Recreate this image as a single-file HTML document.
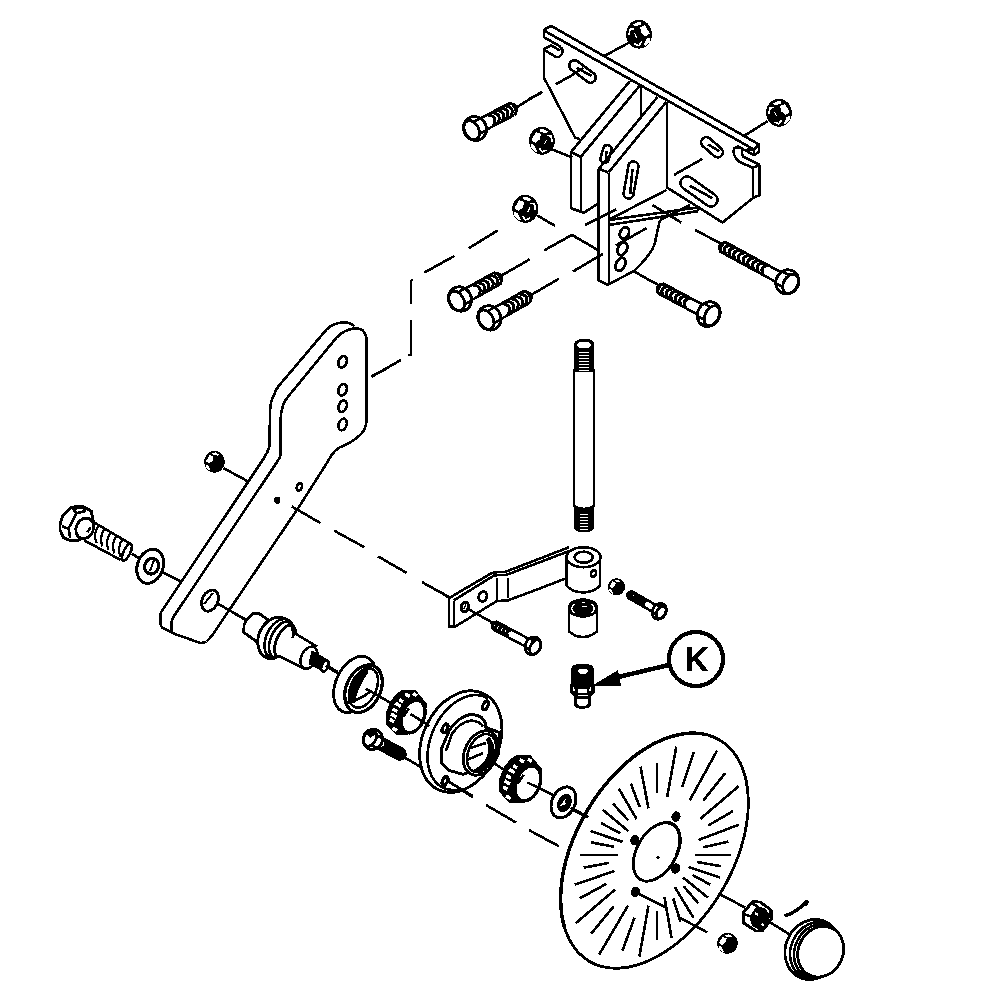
<!DOCTYPE html>
<html><head><meta charset="utf-8"><style>
html,body{margin:0;padding:0;background:#fff;width:992px;height:993px;overflow:hidden}
svg{display:block}
</style></head><body>
<svg width="992" height="993" viewBox="0 0 992 993" stroke="#000" fill="none" stroke-linecap="butt" stroke-linejoin="round" shape-rendering="crispEdges">
<polyline points="551,25.8 759,144.5" stroke-width="2.6"/>
<polyline points="544,30.5 754,149.6" stroke-width="2.6"/>
<polyline points="544,29.4 551,25.8" stroke-width="2.6"/>
<polyline points="544,29.4 544,37.2 561,47" stroke-width="2.6"/>
<polyline points="754,149.6 759,144.5 759,152 754,155 754,149.6" stroke-width="2.6"/>
<polyline points="737,146 754,155" stroke-width="2.6"/>
<path d="M561,47 Q565,53 559,57 L556,57 L545,50.5 M551,45.3 L560,50.5 M551,45.3 L544,49 L544,77.7 L575,137.4 L580,139.5" stroke-width="2.6" fill="none"/>
<path d="M571.4,69.7 L587.4,81.7 A5.2,5.2 0 0 0 593.6,73.3 L577.6,61.3 A5.2,5.2 0 0 0 571.4,69.7 Z" stroke-width="2.6" fill="none"/>
<polyline points="576.7,67.8 591.6,76" stroke-width="2.6"/>
<path d="M555.8,84.2 Q570,77 583.2,68" stroke-width="2.6" fill="none"/>
<polyline points="530,98.7 542,92.3" stroke-width="2.6"/>
<ellipse cx="639" cy="34.2" rx="12.9" ry="14.4" stroke="none" fill="black"/>
<polygon points="642.1,22.7 638,21.8 633.2,24.4 634.8,26 640,25.3" stroke="none" fill="white"/>
<polygon points="649.7,33.5 644.9,25.1 640,27.3 641.3,32.8 645.7,36.5" stroke="none" fill="white"/>
<polygon points="650.1,37.7 646.9,38.2 643.6,45.3 645.7,45.6 649.7,41.8" stroke="none" fill="white"/>
<polygon points="637.2,37.7 634.8,32.8 634,33.2 636,38.1" stroke="none" fill="white"/>
<g stroke="white">
<polyline points="634,28.6 630,29.2 628.9,35.2" stroke-width="1.7"/>
<polyline points="641.7,41.4 638.9,45.7 634.4,43.7" stroke-width="1.7"/>
</g>
<polyline points="628.4,43 604.2,56" stroke-width="2.6"/>
<ellipse cx="779" cy="112.8" rx="12.9" ry="13.9" stroke="none" fill="black"/>
<polygon points="782.1,101.7 778,100.8 773.2,103.3 774.8,104.9 780,104.2" stroke="none" fill="white"/>
<polygon points="789.7,112.1 784.9,104 780,106.1 781.3,111.4 785.7,115" stroke="none" fill="white"/>
<polygon points="790.1,116.1 786.9,116.7 783.6,123.5 785.7,123.8 789.7,120.2" stroke="none" fill="white"/>
<polygon points="777.2,116.1 774.8,111.4 774,111.8 776,116.6" stroke="none" fill="white"/>
<g stroke="white">
<polyline points="774,107.4 770,107.9 768.9,113.8" stroke-width="1.7"/>
<polyline points="781.7,119.8 778.9,123.9 774.4,122" stroke-width="1.7"/>
</g>
<polyline points="767.8,121 744,136" stroke-width="2.6"/>
<polyline points="571,152 630,81" stroke-width="2.6"/>
<polyline points="580.8,156.8 639.7,85.8" stroke-width="2.6"/>
<polyline points="571,152 580.8,156.8" stroke-width="2.6"/>
<polyline points="571,152 571,208.3 584,212.7 597.4,203.9" stroke-width="2.6"/>
<polyline points="580.8,156.8 580.8,212" stroke-width="2"/>
<polyline points="640.6,86 640.6,116.3" stroke-width="2"/>
<path d="M603.5,147.8 L600.5,157.8 A4.2,4.2 0 0 0 608.5,160.2 L611.5,150.2 A4.2,4.2 0 0 0 603.5,147.8 Z" stroke-width="2.6" fill="none"/>
<polyline points="606.4,151.3 605.9,159.4" stroke-width="2.6"/>
<polyline points="598.8,168.8 657.4,97.1" stroke-width="2.6"/>
<polyline points="608.5,172.5 666.3,102" stroke-width="2.6"/>
<polyline points="598.8,168.8 608.5,172.5" stroke-width="2.6"/>
<polyline points="598.5,168.8 598.5,280.4 607.4,284.8 633.8,271.2" stroke-width="2.6"/>
<polyline points="608.5,172.5 608.5,284.8" stroke-width="2"/>
<path d="M633.75,271.25 Q652,254 655,242.5 Q657,232 660,220" stroke-width="2.6" fill="none"/>
<polyline points="667,102 667,187.5" stroke-width="2"/>
<path d="M628.6,165.1 L623.6,193.1 A5,5 0 0 0 633.4,194.9 L638.4,166.9 A5,5 0 0 0 628.6,165.1 Z" stroke-width="2.6" fill="none"/>
<polyline points="632.5,168.9 630.2,194.3" stroke-width="2.6"/>
<polyline points="667,187.5 722.5,222.5 753,198" stroke-width="2.6"/>
<polyline points="759.5,164.6 759.5,195.2 753,198" stroke-width="2.6"/>
<polyline points="753,167.8 753,198" stroke-width="2"/>
<path d="M741,148 Q733,145.5 733.7,152 Q734,158 740.1,162.2 L753,167.8 L759.5,164.6 M753,149.5 L743,150 Q740.5,152 743.3,156.6 L759.5,164.6" stroke-width="2.6" fill="none"/>
<path d="M702.6,145.9 L714.6,156.4 A5.2,5.2 0 0 0 721.4,148.6 L709.4,138.1 A5.2,5.2 0 0 0 702.6,145.9 Z" stroke-width="2.6" fill="none"/>
<polyline points="708,144.4 719.2,151.1" stroke-width="2.6"/>
<path d="M683.2,188.3 L707.2,205.3 A6.5,6.5 0 0 0 714.8,194.7 L690.8,177.7 A6.5,6.5 0 0 0 683.2,188.3 Z" stroke-width="2.6" fill="none"/>
<polyline points="689.8,185.8 712.3,198.1" stroke-width="2.6"/>
<polyline points="673.8,175 702.5,158.8" stroke-width="2.6"/>
<polyline points="608.8,220 697.5,207.5" stroke-width="2.6"/>
<polyline points="608.8,225 697.5,211.2" stroke-width="2.6"/>
<polyline points="697.5,207.5 697.5,211.2" stroke-width="2"/>
<polyline points="666.5,190 609.4,219.4" stroke-width="2.6"/>
<polyline points="585,225 616,209.4" stroke-width="2.6"/>
<polyline points="652.5,205 681.2,222.5" stroke-width="2.6"/>
<polyline points="660,220 690,205" stroke-width="2.6"/>
<ellipse cx="624.4" cy="233" rx="4.3" ry="5.8" stroke-width="2.8600000000000003" fill="none" transform="rotate(25 624.4 233)"/>
<ellipse cx="622.5" cy="248.8" rx="4.4" ry="6.8" stroke-width="2.8600000000000003" fill="none" transform="rotate(25 622.5 248.8)"/>
<ellipse cx="620.5" cy="264.3" rx="4.5" ry="6.9" stroke-width="2.8600000000000003" fill="none" transform="rotate(25 620.5 264.3)"/>
<polyline points="616,245.4 646.5,228.2" stroke-width="2.6"/>
<polyline points="598.5,250.4 571.9,234.9 544.2,250.4" stroke-width="2.6"/>
<polyline points="602.9,253.8 573,271.5" stroke-width="2.6"/>
<polyline points="500.5,276.1 529.7,259.3" stroke-width="2.6"/>
<polyline points="530.7,295.2 558.8,278.8" stroke-width="2.6"/>
<polyline points="497.6,230.5 468.8,248.2" stroke-width="2.6"/>
<polyline points="454.3,256 424.4,272.6" stroke-width="2.6"/>
<polyline points="413.2,280.1 411.4,280.1 411.4,304.3" stroke-width="2"/>
<polyline points="411.4,320 411.4,355 408.3,355" stroke-width="2"/>
<polyline points="401.1,359.9 371.5,376.8" stroke-width="2.6"/>
<ellipse cx="542" cy="140.8" rx="12.9" ry="13.9" stroke="none" fill="black"/>
<polygon points="538.9,129.7 543,128.8 547.8,131.3 546.2,132.9 541,132.2" stroke="none" fill="white"/>
<polygon points="531.3,140.1 536.1,132 541,134.1 539.7,139.4 535.3,143" stroke="none" fill="white"/>
<polygon points="530.9,144.1 534.1,144.7 537.4,151.5 535.3,151.8 531.3,148.2" stroke="none" fill="white"/>
<polygon points="543.8,144.1 546.2,139.4 547,139.8 545,144.6" stroke="none" fill="white"/>
<g stroke="white">
<polyline points="547,135.4 551,135.9 552.1,141.8" stroke-width="1.7"/>
<polyline points="539.3,147.8 542.1,151.9 546.6,150" stroke-width="1.7"/>
</g>
<polyline points="551,149 572.5,157.5" stroke-width="2.6"/>
<ellipse cx="525.3" cy="208.8" rx="13" ry="14" stroke="none" fill="black"/>
<polygon points="522.2,197.6 526.3,196.8 531.1,199.3 529.5,200.8 524.3,200.1" stroke="none" fill="white"/>
<polygon points="514.5,208.1 519.3,200 524.3,202.1 523,207.4 518.5,211" stroke="none" fill="white"/>
<polygon points="514.1,212.2 517.4,212.7 520.6,219.6 518.5,219.9 514.5,216.2" stroke="none" fill="white"/>
<polygon points="527.1,212.2 529.5,207.4 530.4,207.8 528.3,212.6" stroke="none" fill="white"/>
<g stroke="white">
<polyline points="530.4,203.3 534.4,203.9 535.4,209.8" stroke-width="1.7"/>
<polyline points="522.6,215.8 525.4,220 530,218" stroke-width="1.7"/>
</g>
<polyline points="537.5,215.5 555.2,226" stroke-width="2.6"/>
<path d="M483,131.5 L514.3,115.1 M477,120.2 L508.3,103.7" stroke-width="2.6" fill="none"/>
<path d="M514.3,115.1 C518.8,112.7 512.9,101.3 508.3,103.7" stroke-width="2.6" fill="none"/>
<path d="M493.2,126.2 Q498.7,116 487.2,114.8" stroke-width="3" fill="none"/>
<path d="M497.5,123.9 Q503,113.7 491.6,112.6" stroke-width="3" fill="none"/>
<path d="M501.8,121.6 Q507.4,111.5 495.9,110.3" stroke-width="3" fill="none"/>
<path d="M506.2,119.3 Q511.7,109.2 500.2,108" stroke-width="3" fill="none"/>
<path d="M510.5,117 Q516,106.9 504.6,105.7" stroke-width="3" fill="none"/>
<path d="M514.8,114.8 Q520.4,104.6 508.9,103.4" stroke-width="3" fill="none"/>
<ellipse cx="475" cy="128.5" rx="11.3" ry="12.2" stroke-width="2.8600000000000003" fill="white" transform="rotate(-27.8 475 128.5)"/>
<ellipse cx="471.7" cy="130.2" rx="7" ry="10.2" stroke-width="2.8600000000000003" fill="none" transform="rotate(-27.8 471.7 130.2)"/>
<polyline points="478.3,134.3 486.6,130" stroke-width="2.6"/>
<polyline points="472.1,122.5 480.4,118.1" stroke-width="2.6"/>
<polyline points="517.1,106.9 542.5,91.5" stroke-width="2.6"/>
<path d="M468.1,302 L499.5,284.7 M461.8,290.5 L493.1,273.2" stroke-width="2.6" fill="none"/>
<path d="M499.5,284.7 C504.1,282.2 497.7,270.6 493.1,273.2" stroke-width="2.6" fill="none"/>
<path d="M478.4,296.4 Q483.9,285.8 472,284.8" stroke-width="3" fill="none"/>
<path d="M482.7,294 Q488.2,283.4 476.3,282.4" stroke-width="3" fill="none"/>
<path d="M487.1,291.6 Q492.5,281 480.7,280" stroke-width="3" fill="none"/>
<path d="M491.4,289.2 Q496.9,278.6 485,277.6" stroke-width="3" fill="none"/>
<path d="M495.7,286.8 Q501.2,276.2 489.3,275.3" stroke-width="3" fill="none"/>
<path d="M500,284.4 Q505.5,273.8 493.7,272.9" stroke-width="3" fill="none"/>
<ellipse cx="460" cy="299" rx="11.3" ry="12.4" stroke-width="2.8600000000000003" fill="white" transform="rotate(-28.9 460 299)"/>
<ellipse cx="456.7" cy="300.8" rx="7" ry="10.4" stroke-width="2.8600000000000003" fill="none" transform="rotate(-28.9 456.7 300.8)"/>
<polyline points="463.5,304.9 471.7,300.3" stroke-width="2.6"/>
<polyline points="456.9,292.9 465.1,288.4" stroke-width="2.6"/>
<path d="M497.6,320.9 L529,303.2 M491.1,309.4 L522.5,291.7" stroke-width="2.6" fill="none"/>
<path d="M529,303.2 C533.6,300.6 527.1,289.1 522.5,291.7" stroke-width="2.6" fill="none"/>
<path d="M507.9,315.1 Q513.3,304.5 501.4,303.6" stroke-width="3" fill="none"/>
<path d="M512.2,312.7 Q517.6,302.1 505.7,301.1" stroke-width="3" fill="none"/>
<path d="M516.6,310.2 Q522,299.6 510.1,298.7" stroke-width="3" fill="none"/>
<path d="M520.9,307.8 Q526.3,297.2 514.4,296.3" stroke-width="3" fill="none"/>
<path d="M525.2,305.3 Q530.6,294.7 518.8,293.8" stroke-width="3" fill="none"/>
<path d="M529.6,302.9 Q535,292.3 523.1,291.4" stroke-width="3" fill="none"/>
<ellipse cx="489.4" cy="317.9" rx="11.3" ry="12.4" stroke-width="2.8600000000000003" fill="white" transform="rotate(-29.3 489.4 317.9)"/>
<ellipse cx="486.1" cy="319.7" rx="7" ry="10.4" stroke-width="2.8600000000000003" fill="none" transform="rotate(-29.3 486.1 319.7)"/>
<polyline points="492.9,323.7 501.1,319.1" stroke-width="2.6"/>
<polyline points="486.3,311.8 494.4,307.3" stroke-width="2.6"/>
<polyline points="695,230 723.8,245" stroke-width="2.6"/>
<path d="M785,274.4 L726.9,242.8 M779.7,284 L721.6,252.4" stroke-width="2.6" fill="none"/>
<path d="M726.9,242.8 C723,240.7 717.8,250.3 721.6,252.4" stroke-width="2.6" fill="none"/>
<path d="M768.6,265.5 Q758.8,266.4 763.4,275.1" stroke-width="3.2" fill="none"/>
<path d="M763.9,262.9 Q754.1,263.8 758.7,272.6" stroke-width="3.2" fill="none"/>
<path d="M759.3,260.4 Q749.4,261.3 754,270" stroke-width="3.2" fill="none"/>
<path d="M754.6,257.8 Q744.7,258.7 749.3,267.5" stroke-width="3.2" fill="none"/>
<path d="M749.9,255.3 Q740,256.2 744.6,264.9" stroke-width="3.2" fill="none"/>
<path d="M745.2,252.7 Q735.3,253.6 739.9,262.4" stroke-width="3.2" fill="none"/>
<path d="M740.5,250.2 Q730.6,251 735.2,259.8" stroke-width="3.2" fill="none"/>
<path d="M735.8,247.6 Q725.9,248.5 730.5,257.3" stroke-width="3.2" fill="none"/>
<path d="M731.1,245 Q721.2,245.9 725.8,254.7" stroke-width="3.2" fill="none"/>
<path d="M726.4,242.5 Q716.5,243.4 721.1,252.2" stroke-width="3.2" fill="none"/>
<ellipse cx="787.3" cy="281.9" rx="11.3" ry="12.3" stroke-width="2.8600000000000003" fill="white" transform="rotate(-151.4 787.3 281.9)"/>
<ellipse cx="790.6" cy="283.7" rx="7" ry="10.3" stroke-width="2.8600000000000003" fill="none" transform="rotate(-151.4 790.6 283.7)"/>
<polyline points="790.3,275.8 782.1,271.4" stroke-width="2.6"/>
<polyline points="783.9,287.7 775.6,283.3" stroke-width="2.6"/>
<polyline points="650,280.5 660.5,286.1" stroke-width="2.6"/>
<polyline points="633.8,271.2 650,280.5" stroke-width="2.6"/>
<path d="M706.4,306.5 L664.6,284.2 M701.2,316.4 L659.3,294" stroke-width="2.6" fill="none"/>
<path d="M664.6,284.2 C660.7,282 655.4,291.9 659.3,294" stroke-width="2.6" fill="none"/>
<path d="M691.1,298.3 Q681.1,299.3 685.8,308.2" stroke-width="3.2" fill="none"/>
<path d="M686.6,295.9 Q676.6,296.9 681.3,305.8" stroke-width="3.2" fill="none"/>
<path d="M682.1,293.5 Q672.1,294.5 676.8,303.4" stroke-width="3.2" fill="none"/>
<path d="M677.6,291.1 Q667.6,292.1 672.3,301" stroke-width="3.2" fill="none"/>
<path d="M673.1,288.7 Q663.1,289.7 667.8,298.6" stroke-width="3.2" fill="none"/>
<path d="M668.6,286.3 Q658.6,287.3 663.3,296.2" stroke-width="3.2" fill="none"/>
<path d="M664.1,283.9 Q654.1,284.9 658.8,293.8" stroke-width="3.2" fill="none"/>
<ellipse cx="708.7" cy="314.1" rx="11.1" ry="12.7" stroke-width="2.8600000000000003" fill="white" transform="rotate(-151.8 708.7 314.1)"/>
<ellipse cx="711.9" cy="315.8" rx="6.9" ry="10.7" stroke-width="2.8600000000000003" fill="none" transform="rotate(-151.8 711.9 315.8)"/>
<polyline points="711.8,307.8 703.7,303.5" stroke-width="2.6"/>
<polyline points="705.2,320.2 697.1,315.8" stroke-width="2.6"/>
<path d="M354.7,326.3 Q350,322 342,322.5 Q333,323 326,330.1 L285.2,378.4 Q276,388 274.6,393.5 Q270,402 270.1,412 L269.3,446.4 Q268,452 264,458 L163.1,609.2 Q160.6,612 160.6,614.3 L160.6,624.4 Q161,626.5 162.1,627.4 L173.2,633.4" stroke-width="2.6" fill="none"/>
<path d="M353.1,328.6 Q344,330 336.5,337.6 L288.2,396.5 Q283,403 282.2,408.6 Q280.7,414 280.7,419.2 L280.7,453.9 Q280,458 277,462 L175.2,614.3 Q171.7,619 171.7,622.3 L171.7,631.4 Q172,633 173.2,633.4 L200.4,643 Q204,643 206.5,641.5 Q210,638 212.5,634.9 L300,505.3" stroke-width="2.6" fill="none"/>
<path d="M353.1,328.6 Q362,328 364,332 Q366.7,336 366.7,342 L366.7,419.2 Q366,430 360.7,434.3 Q355,440 345.6,444.9 Q339,447 335,450.9 Q331,455 327.5,462 L300,505.3" stroke-width="2.6" fill="none"/>
<ellipse cx="342.6" cy="361.8" rx="4" ry="6" stroke-width="2.6" fill="none" transform="rotate(20 342.6 361.8)"/>
<ellipse cx="342.6" cy="389.7" rx="4" ry="6" stroke-width="2.6" fill="none" transform="rotate(20 342.6 389.7)"/>
<ellipse cx="342.6" cy="406.3" rx="4" ry="6" stroke-width="2.6" fill="none" transform="rotate(20 342.6 406.3)"/>
<ellipse cx="342.6" cy="424.5" rx="4" ry="6" stroke-width="2.6" fill="none" transform="rotate(20 342.6 424.5)"/>
<ellipse cx="277.3" cy="500.3" rx="2.5" ry="3" stroke-width="1.3" fill="black"/>
<ellipse cx="299.4" cy="486.9" rx="2.5" ry="4" stroke-width="2.6" fill="none" transform="rotate(20 299.4 486.9)"/>
<ellipse cx="210" cy="600.6" rx="7.8" ry="11.1" stroke-width="2.8600000000000003" fill="none" transform="rotate(25 210 600.6)"/>
<polyline points="204,604 213,593" stroke-width="2"/>
<polyline points="218.5,604 246.6,620.1" stroke-width="2.6"/>
<polyline points="371.3,376.2 385,369.4" stroke-width="2.6"/>
<ellipse cx="214.5" cy="461.8" rx="10.4" ry="10.9" stroke="none" fill="black"/>
<polygon points="212,453.1 215.3,452.4 219.2,454.4 217.9,455.6 213.7,455" stroke="none" fill="white"/>
<polygon points="205.9,461.3 209.7,454.9 213.7,456.6 212.6,460.7 209.1,463.5" stroke="none" fill="white"/>
<polygon points="205.6,464.4 208.2,464.9 210.8,470.2 209.1,470.4 205.9,467.6" stroke="none" fill="white"/>
<polyline points="223.5,468.1 247.6,481.2" stroke-width="2.6"/>
<polyline points="291.9,506.5 320.6,523.2" stroke-width="2.6"/>
<polyline points="334.2,530.7 364.5,547.3" stroke-width="2.6"/>
<polyline points="378,556.4 406.8,573" stroke-width="2.6"/>
<polyline points="421.9,582.1 449.1,597.2" stroke-width="2.6"/>
<path d="M93,521.8 L129,543 M83.9,540.2 L120.6,559.9" stroke-width="2.6" fill="none"/>
<path d="M99,525 Q92.5,534 96.5,543" stroke-width="2.3" fill="none"/>
<path d="M105,528.4 Q98.5,537.4 102.5,546.4" stroke-width="2.3" fill="none"/>
<path d="M111,531.8 Q104.5,540.8 108.5,549.8" stroke-width="2.3" fill="none"/>
<path d="M117,535.2 Q110.5,544.2 114.5,553.2" stroke-width="2.3" fill="none"/>
<path d="M123,538.6 Q116.5,547.6 120.5,556.6" stroke-width="2.3" fill="none"/>
<path d="M129,542 Q122.5,551 126.5,560" stroke-width="2.3" fill="none"/>
<ellipse cx="126.9" cy="552.2" rx="3.4" ry="9.2" stroke-width="2.6" fill="white" transform="rotate(25 126.9 552.2)"/>
<polygon points="60,525.2 62.1,517.1 66,512 71.6,507.1 82.7,506.3 91.3,511.1 93.3,521.7 90,532 83.2,538.3 76.7,540.8 70.6,540.8 63.6,537.8 60,530.2" stroke-width="2.8600000000000003" fill="white"/>
<polygon points="73.1,509.1 82.7,507.1 85.2,511.1 76.7,513.1" stroke-width="2.6" fill="none"/>
<polyline points="76.7,513.1 68.6,528.2 70.1,538.3" stroke-width="2.6"/>
<polyline points="62.1,526.2 68.6,528.7" stroke-width="2.6"/>
<ellipse cx="84.8" cy="528.4" rx="8.6" ry="10.6" stroke-width="2.8600000000000003" fill="white" transform="rotate(25 84.8 528.4)"/>
<polyline points="87.3,532.3 90.5,527.5" stroke-width="2.6"/>
<polyline points="131.9,553.6 140.3,559.2" stroke-width="2.6"/>
<ellipse cx="150.2" cy="566.3" rx="12.8" ry="17.5" stroke-width="3" fill="white" transform="rotate(20 150.2 566.3)"/>
<ellipse cx="151.6" cy="566.2" rx="6.9" ry="7.9" stroke-width="3.25" fill="none" transform="rotate(20 151.6 566.2)"/>
<polyline points="150,571 154,560" stroke-width="2"/>
<polyline points="161.5,571.9 181.2,581.8" stroke-width="2.6"/>
<path d="M574,369 L574,506 Q584,512 594,506 L594,369" stroke-width="2.6" fill="none"/>
<path d="M575,371 L575,345 Q576,340 584,340 Q593,340 593,345 L593,371 Z" stroke-width="2.6" fill="black"/>
<ellipse cx="584" cy="345" rx="7" ry="3.5" stroke="none" fill="white"/>
<polyline points="579,352 589,352" stroke-width="1"/>
<polyline points="579,355 589,355" stroke-width="1"/>
<polyline points="579,358 589,358" stroke-width="1"/>
<polyline points="579,361 589,361" stroke-width="1"/>
<polyline points="579,364 589,364" stroke-width="1"/>
<polyline points="579,367 589,367" stroke-width="1"/>
<polyline points="579,370 589,370" stroke-width="1"/>
<g stroke="white">
<polyline points="579,352 589,352" stroke-width="1"/>
<polyline points="579,355 589,355" stroke-width="1"/>
<polyline points="579,358 589,358" stroke-width="1"/>
<polyline points="579,361 589,361" stroke-width="1"/>
<polyline points="579,364 589,364" stroke-width="1"/>
<polyline points="579,367 589,367" stroke-width="1"/>
<polyline points="579,370 589,370" stroke-width="1"/>
</g>
<path d="M575,509 L575,528 Q577,531 584,531 Q591,531 593,528 L593,509 Q584,512 575,509 Z" stroke-width="2.6" fill="black"/>
<g stroke="white">
<polyline points="580,514 588,514" stroke-width="1"/>
<polyline points="580,517 588,517" stroke-width="1"/>
<polyline points="580,520 588,520" stroke-width="1"/>
<polyline points="580,523 588,523" stroke-width="1"/>
<polyline points="580,526 588,526" stroke-width="1"/>
<polyline points="580,529 588,529" stroke-width="1"/>
</g>
<polyline points="440,591.4 449.1,598" stroke-width="2.6"/>
<polyline points="449.1,598 449.1,626.7 455.1,626.7 494.4,602.5 496.5,601 507.5,600.5 540,588.4 565.8,578.4" stroke-width="2.6"/>
<polyline points="453.6,600.5 453.6,625.7" stroke-width="2"/>
<polyline points="449.1,598 491.4,573.3 494.4,572.3 505.5,571.8 569,547.3" stroke-width="2.6"/>
<polyline points="453.6,600.5 494.4,575.3 506.5,574.8 571.5,550.2" stroke-width="2.6"/>
<polyline points="497,577.8 497,599.5" stroke-width="2"/>
<polyline points="508,578.3 508,598" stroke-width="2"/>
<ellipse cx="464.7" cy="607" rx="3.5" ry="5" stroke-width="3" fill="none" transform="rotate(15 464.7 607)"/>
<polyline points="463.5,609.5 466,604" stroke-width="1.3"/>
<ellipse cx="482.8" cy="596.5" rx="4" ry="5" stroke-width="2.8600000000000003" fill="none" transform="rotate(20 482.8 596.5)"/>
<polyline points="467.2,608.5 494.4,623.7" stroke-width="2.6"/>
<path d="M566.6,557.2 L566.6,585.6 Q572,592 583,592.5 Q594,592 600,585.6 L600,557.2" stroke-width="2.6" fill="white"/>
<ellipse cx="583.5" cy="557.2" rx="17" ry="10" stroke-width="2.6" fill="white"/>
<ellipse cx="583.7" cy="557.2" rx="9" ry="5.5" stroke-width="2.6" fill="none"/>
<ellipse cx="593.6" cy="573.5" rx="2.5" ry="3.5" stroke-width="2.6" fill="none" transform="rotate(20 593.6 573.5)"/>
<ellipse cx="616.5" cy="586.8" rx="8.6" ry="8.6" stroke="none" fill="black"/>
<polygon points="614.4,579.9 617.1,579.4 620.4,581 619.3,581.9 615.8,581.5" stroke="none" fill="white"/>
<polygon points="609.4,586.4 612.5,581.4 615.8,582.7 615,585.9 612,588.2" stroke="none" fill="white"/>
<polygon points="609.1,588.9 611.3,589.2 613.4,593.4 612,593.6 609.4,591.4" stroke="none" fill="white"/>
<path d="M658.1,606.3 L632.9,591.8 M654.4,612.9 L629.1,598.4" stroke-width="2.6" fill="none"/>
<path d="M632.9,591.8 C630.2,590.3 626.5,596.8 629.1,598.4" stroke-width="2.6" fill="none"/>
<path d="M648,600.4 Q641.1,600.9 644.2,607" stroke-width="3.2" fill="none"/>
<path d="M644.9,598.7 Q638,599.1 641.1,605.3" stroke-width="3.2" fill="none"/>
<path d="M641.8,596.9 Q635,597.4 638,603.5" stroke-width="3.2" fill="none"/>
<path d="M638.7,595.1 Q631.9,595.6 634.9,601.7" stroke-width="3.2" fill="none"/>
<path d="M635.6,593.4 Q628.8,593.8 631.8,599.9" stroke-width="3.2" fill="none"/>
<path d="M632.6,591.6 Q625.7,592 628.8,598.2" stroke-width="3.2" fill="none"/>
<ellipse cx="659.2" cy="611.3" rx="6.8" ry="8.2" stroke-width="2.8600000000000003" fill="white" transform="rotate(-150.1 659.2 611.3)"/>
<ellipse cx="661.1" cy="612.4" rx="4.2" ry="6.9" stroke-width="2.8600000000000003" fill="none" transform="rotate(-150.1 661.1 612.4)"/>
<polyline points="661.3,607.3 656.4,604.5" stroke-width="2.6"/>
<polyline points="656.8,615.1 651.9,612.3" stroke-width="2.6"/>
<path d="M569,608 L569,631.3 Q575,637 583,637 Q591,637 597,631.3 L597,608" stroke-width="2.6" fill="white"/>
<ellipse cx="583" cy="608" rx="14" ry="8.6" stroke-width="2.6" fill="black"/>
<g stroke="white">
<polyline points="574.4,612.7 573.3,611.7 572.5,610.6 572,609.5 571.8,608.3 572,607.1 572.5,606 573.3,604.9 574.4,603.9" stroke-width="1.3"/>
<polyline points="591.6,603.9 592.7,604.9 593.5,606 594,607.1 594.2,608.3 594,609.5 593.5,610.6 592.7,611.7 591.6,612.7" stroke-width="1.3"/>
<polyline points="582,602 585,602" stroke-width="1"/>
<polyline points="581.5,606.5 586.5,606.5" stroke-width="1"/>
</g>
<path d="M531.6,640.3 L497.6,622.2 M527.6,647.7 L493.6,629.6" stroke-width="2.6" fill="none"/>
<path d="M497.6,622.2 C494.6,620.6 490.7,628 493.6,629.6" stroke-width="2.6" fill="none"/>
<path d="M511.9,629.8 Q504.3,630.5 507.9,637.2" stroke-width="3.2" fill="none"/>
<path d="M508.2,627.8 Q500.7,628.6 504.3,635.3" stroke-width="3.2" fill="none"/>
<path d="M504.5,625.9 Q497,626.6 500.6,633.3" stroke-width="3.2" fill="none"/>
<path d="M500.9,623.9 Q493.3,624.7 496.9,631.4" stroke-width="3.2" fill="none"/>
<path d="M497.2,622 Q489.7,622.7 493.3,629.4" stroke-width="3.2" fill="none"/>
<ellipse cx="533" cy="645.8" rx="7.7" ry="9" stroke-width="2.8600000000000003" fill="white" transform="rotate(-152 533 645.8)"/>
<ellipse cx="535.2" cy="647" rx="4.8" ry="7.6" stroke-width="2.8600000000000003" fill="none" transform="rotate(-152 535.2 647)"/>
<polyline points="535.2,641.4 529.5,638.4" stroke-width="2.6"/>
<polyline points="530.5,650.1 524.9,647.1" stroke-width="2.6"/>
<polyline points="490,622.2 494,624.8" stroke-width="2.6"/>
<path d="M572,668 Q572,664.5 582.5,664.5 Q593,664.5 593,668 L593,682 L594,684 L594,693 L590,697 L590,706 Q589,708 582,708 Q576,708 575,706 L575,697 L571,693 L571,684 L572,682 Z" stroke-width="1.3" fill="black"/>
<ellipse cx="583" cy="671.3" rx="4.9" ry="2.5" stroke="none" fill="white"/>
<polygon points="577.8,689 586.9,689 586.9,693.1 577.8,693.1" stroke="none" fill="white"/>
<polygon points="572.5,687 574,687 575,691 573.5,691" stroke="none" fill="white"/>
<polygon points="590,687 591.5,687 590.5,691 589,691" stroke="none" fill="white"/>
<polygon points="577,698.5 588,698.5 588,704 585,706 579,706 577,704" stroke="none" fill="white"/>
<polyline points="577.5,695.2 588,695.2" stroke-width="1"/>
<g stroke="white">
<polyline points="578,695.5 587.5,695.5" stroke-width="1"/>
</g>
<polyline points="667.5,665.3 612,678.5" stroke-width="4.5"/>
<polygon points="593.9,685.2 617.5,671 620.6,686" stroke-width="1" fill="black"/>
<ellipse cx="696" cy="659" rx="27" ry="27" stroke-width="4.2" fill="none"/>
<path d="M687,647 L692,647 L692,657.5 L702,647 L708,647 L697.5,657.5 L708.5,671 L702.5,671 L694,660.5 L692,662.5 L692,671 L687,671 Z" fill="black" stroke="none"/>
<polyline points="236,614.5 246.5,620.2" stroke-width="2.6"/>
<polygon points="246.5,620.2 252.9,613.7 259.4,613.7 267.5,619.4 262,641 257,642 243.7,632.3 244.1,625" stroke-width="2.8600000000000003" fill="white"/>
<polyline points="293.3,632.3 317,646.6" stroke-width="2.6"/>
<polyline points="280.4,656.5 304.8,668.8" stroke-width="2.6"/>
<ellipse cx="275.5" cy="638.1" rx="16.8" ry="21.6" stroke="none" fill="white" transform="rotate(25 275.5 638.1)"/>
<polyline points="292.9,638.1 293.2,634.7 293.1,631.4 292.5,628.3 291.4,625.5 289.9,623 288,620.8 285.8,619.2 283.3,618 280.7,617.4 277.8,617.3 275,617.8 272.1,618.8 269.3,620.3 266.7,622.3 264.3,624.7 262.2,627.5 260.5,630.5 259.1,633.8 258.2,637.1 257.8,640.5 257.8,643.8 258.3,647 259.3,649.9 260.6,652.6 262.4,654.8 264.5,656.6 266.9,657.9 269.6,658.7 272.3,658.9 275.2,658.6" stroke-width="2.9"/>
<polyline points="292.4,625 291.5,623.2 290.4,621.7 289.1,620.6 287.6,619.7 286,619.2 284.2,619 282.4,619.2 280.4,619.7 278.5,620.5 276.6,621.7 274.7,623.2 272.9,624.9 271.2,626.9 269.6,629.1 268.2,631.5 267,634 266,636.6 265.3,639.2 264.8,641.8 264.5,644.3 264.5,646.7 264.8,649 265.3,651.1 266.1,653 267.1,654.6 268.3,655.9 269.7,656.9 271.2,657.6 272.9,658 274.7,658" stroke-width="2.6"/>
<polyline points="293.8,629 293.4,627 292.8,625.4 291.9,623.9 290.9,622.8 289.6,622.1 288.2,621.6 286.7,621.5 285.1,621.8 283.4,622.4 281.6,623.3 279.9,624.5 278.2,626.1 276.5,627.9 275,629.9 273.6,632.1 272.3,634.5 271.2,636.9 270.3,639.4 269.7,641.9 269.2,644.4 269,646.8 269.1,649 269.3,651 269.9,652.8 270.6,654.4 271.6,655.6 272.7,656.6 274,657.2 275.5,657.5 277.1,657.4" stroke-width="2.6"/>
<polyline points="295.5,633.7 295.5,631.7 295.2,629.9 294.8,628.3 294.1,627.1 293.3,626.1 292.3,625.4 291.1,625 289.8,625 288.4,625.4 286.9,626 285.4,627 283.9,628.3 282.4,629.8 280.9,631.6 279.6,633.6 278.3,635.7 277.2,637.9 276.3,640.2 275.5,642.6 275,644.8 274.6,647.1 274.5,649.1 274.6,651.1 274.9,652.8 275.4,654.2 276.2,655.4 277.1,656.2 278.2,656.8 279.4,657 280.8,656.9" stroke-width="3"/>
<ellipse cx="309" cy="657.7" rx="7.7" ry="11.6" stroke-width="2.6" fill="white" transform="rotate(25 309 657.7)"/>
<polygon points="312,651 326,659 323,671 309,664" stroke-width="1" fill="black"/>
<ellipse cx="325" cy="666" rx="3.2" ry="5.9" stroke-width="2.6" fill="white" transform="rotate(25 325 666)"/>
<polyline points="328,666.5 338,672" stroke-width="2.6"/>
<ellipse cx="354.8" cy="684.4" rx="18.9" ry="29.7" stroke-width="2.8600000000000003" fill="white" transform="rotate(25 354.8 684.4)"/>
<ellipse cx="363.5" cy="688.7" rx="17.1" ry="25" stroke-width="3.25" fill="white" transform="rotate(25 363.5 688.7)"/>
<ellipse cx="363.5" cy="688" rx="12.6" ry="21" stroke-width="2.6" fill="none" transform="rotate(25 363.5 688)"/>
<path d="M349,702 Q350,680 365,668 Q368,670 367,673 Q357,686 354,702 Z" stroke-width="2" fill="black"/>
<path d="M347,703 Q360,700 371,691" stroke-width="2.6" fill="none"/>
<polyline points="326,665.7 338.1,673.6" stroke-width="2.6"/>
<polyline points="365.9,688.7 391.3,703.2" stroke-width="2.6"/>
<polygon points="403.3,690 414.9,690 426,703.3 426,708.3 422.1,719.3 413.2,731.5 407.7,734 396.1,734 386.1,723.8 386.1,713.8 391.1,701.1 397.7,693.3" stroke-width="1" fill="black"/>
<g stroke="white">
<polyline points="395.2,703.1 400.8,706.4" stroke-width="3.4"/>
<polyline points="392.8,708.9 397.2,711.5" stroke-width="3.4"/>
<polyline points="390.9,713.9 396.4,717.1" stroke-width="3.4"/>
<polyline points="389.7,719.4 394.1,722" stroke-width="3.4"/>
<polyline points="392.5,728 396.9,730.6" stroke-width="3.4"/>
<polyline points="399.1,699.6 402.9,702" stroke-width="3.4"/>
<polyline points="405.2,693.9 409.6,696.5" stroke-width="3.4"/>
<polyline points="413,693.5 416.8,695.9" stroke-width="3.4"/>
</g>
<ellipse cx="413" cy="716.5" rx="11" ry="17" stroke-width="3.3800000000000003" fill="white" transform="rotate(22 413 716.5)"/>
<polyline points="403.3,716.6 409,708.3" stroke-width="2.6"/>
<polyline points="410.7,714.1 430,726.2" stroke-width="2.6"/>
<path d="M374.4,746.6 L397.9,759.1 M379.7,736.7 L403.2,749.3" stroke-width="2.6" fill="none"/>
<path d="M397.9,759.1 C401.8,761.3 407.1,751.4 403.2,749.3" stroke-width="2.6" fill="none"/>
<path d="M378.9,749 Q389,748 384.2,739.1" stroke-width="3.1" fill="none"/>
<path d="M381.7,750.5 Q391.7,749.5 387,740.6" stroke-width="3.1" fill="none"/>
<path d="M384.5,752 Q394.5,751 389.8,742.1" stroke-width="3.1" fill="none"/>
<path d="M387.3,753.5 Q397.3,752.5 392.5,743.6" stroke-width="3.1" fill="none"/>
<path d="M390,755 Q400.1,754 395.3,745.1" stroke-width="3.1" fill="none"/>
<path d="M392.8,756.4 Q402.9,755.5 398.1,746.6" stroke-width="3.1" fill="none"/>
<path d="M395.6,757.9 Q405.6,756.9 400.9,748" stroke-width="3.1" fill="none"/>
<path d="M398.4,759.4 Q408.4,758.4 403.7,749.5" stroke-width="3.1" fill="none"/>
<ellipse cx="372.8" cy="739.4" rx="9.7" ry="10.2" stroke-width="2.8600000000000003" fill="white" transform="rotate(28.1 372.8 739.4)"/>
<ellipse cx="370" cy="737.9" rx="6" ry="8.6" stroke-width="2.8600000000000003" fill="none" transform="rotate(28.1 370 737.9)"/>
<polyline points="370.3,744.4 377.4,748.2" stroke-width="2.6"/>
<polyline points="375.6,734.5 382.7,738.3" stroke-width="2.6"/>
<polygon points="366,733 372,730 376,734 370,738" stroke="none" fill="black"/>
<polyline points="404.4,757.4 421.3,767.3" stroke-width="2.6"/>
<ellipse cx="460.8" cy="741.6" rx="38" ry="53.1" stroke-width="2.8600000000000003" fill="white" transform="rotate(25 460.8 741.6)"/>
<polyline points="461.4,788.8 456.8,789.8 452.3,790 448.1,789.4 444.1,788.2 440.4,786.2 437.1,783.5 434.2,780.2 431.8,776.3 429.9,771.8 428.5,767 427.7,761.7 427.5,756.1 427.9,750.3 428.8,744.4 430.3,738.5 432.3,732.6 434.8,726.9 437.8,721.4 441.2,716.3 445,711.5 449.1,707.3 453.4,703.6 457.9,700.5 462.5,698.1 467.1,696.3 471.7,695.3 476.1,695 480.4,695.5 484.5,696.7 488.2,698.6" stroke-width="2.6"/>
<ellipse cx="485.5" cy="705.4" rx="2.4" ry="4.8" stroke-width="3" fill="none" transform="rotate(25 485.5 705.4)"/>
<ellipse cx="445" cy="728.4" rx="2.4" ry="4.8" stroke-width="3" fill="none" transform="rotate(25 445 728.4)"/>
<ellipse cx="445" cy="781" rx="2.4" ry="4.8" stroke-width="3" fill="none" transform="rotate(25 445 781)"/>
<path d="M441.4,748.9 L449.6,729.9 Q455,722 461.4,718.1 Q467,714.5 472.2,714.5 Q478,715 481.3,717.2 L485.4,722.6 L485.8,727.2 L499.4,732.6 L498.5,754.3 L490.3,765.2 L463.2,774.3 L449.6,770.7 L441.4,762.5 Z" stroke-width="2.9" fill="none"/>
<path d="M446,750.7 L452,734 Q460,722 470.4,720.8 Q478,720 483.1,726.3" stroke-width="2.6" fill="none"/>
<ellipse cx="480.9" cy="753" rx="16.2" ry="23.3" stroke-width="2.8600000000000003" fill="white" transform="rotate(25 480.9 753)"/>
<ellipse cx="481.5" cy="753" rx="13" ry="20.1" stroke-width="2.6" fill="none" transform="rotate(25 481.5 753)"/>
<path d="M489,738 Q496,746 492,758 Q486,771 474,771 Q485,765 488,756 Q491,746 487,740 Z" stroke-width="2" fill="black"/>
<path d="M470,748 L486,743 M467,760 L483,753" stroke-width="2.6" fill="none"/>
<polyline points="494.6,763.4 503,769.4" stroke-width="2.6"/>
<polyline points="448.7,781.5 472.9,797.3" stroke-width="2.6"/>
<polyline points="421.5,721 429.3,726" stroke-width="2.6"/>
<polygon points="517.5,755.2 529.9,755.2 541.8,769.4 541.8,774.8 537.6,786.5 528.1,799.6 522.2,802.3 509.8,802.3 499.1,791.3 499.1,780.6 504.4,767.1 511.5,758.7" stroke-width="1" fill="black"/>
<g stroke="white">
<polyline points="509.1,769.3 514.6,772.6" stroke-width="3.4"/>
<polyline points="506.4,775.5 510.8,778.1" stroke-width="3.4"/>
<polyline points="504.4,780.8 509.9,784.1" stroke-width="3.4"/>
<polyline points="503.1,786.7 507.5,789.4" stroke-width="3.4"/>
<polyline points="506.1,795.9 510.5,798.6" stroke-width="3.4"/>
<polyline points="513.1,765.6 517,767.9" stroke-width="3.4"/>
<polyline points="519.7,759.4 524.1,762.1" stroke-width="3.4"/>
<polyline points="528,759.1 531.8,761.4" stroke-width="3.4"/>
</g>
<ellipse cx="527.9" cy="783.5" rx="11.7" ry="18.2" stroke-width="3.3800000000000003" fill="white" transform="rotate(22 527.9 783.5)"/>
<polyline points="517.5,783.6 523.6,774.8" stroke-width="2.6"/>
<polyline points="527.5,782.5 555,796" stroke-width="2.6"/>
<ellipse cx="563.5" cy="802.4" rx="11.5" ry="16.2" stroke-width="3" fill="white" transform="rotate(25 563.5 802.4)"/>
<ellipse cx="564.4" cy="803" rx="5.2" ry="7.9" stroke-width="3.25" fill="black" transform="rotate(25 564.4 803)"/>
<polygon points="560,806 566,798 565,803 567,804" stroke="none" fill="white"/>
<polyline points="572.5,810 587.5,817.5" stroke-width="2.6"/>
<polyline points="450,782.5 472.5,796" stroke-width="2.6"/>
<polyline points="486,805 516,822.5" stroke-width="2.6"/>
<polyline points="528.8,830 558.8,846.2" stroke-width="2.6"/>
<ellipse cx="654.5" cy="850.7" rx="128.4" ry="78.4" stroke-width="2.8600000000000003" fill="none" transform="rotate(-59.5 654.5 850.7)"/>
<polyline points="706.9,734.8 702.1,733.8 697.1,733.3 691.9,733.1 686.6,733.4 681.1,734.2 675.6,735.4 669.9,737 664.3,739 658.5,741.5 652.8,744.3 647.1,747.6 641.4,751.2 635.7,755.2 630.2,759.6 624.7,764.3 619.3,769.4 614,774.7 609,780.3 604,786.2 599.3,792.3 594.8,798.6 590.5,805.2 586.4,811.9 582.6,818.7 579,825.7 575.8,832.7 572.8,839.9 570.1,847 567.8,854.2 565.7,861.4 564,868.5 562.7,875.6 561.7,882.6 561,889.4 560.7,896.1 560.7,902.6 561.1,909 561.8,915.1 562.9,921 564.3,926.6" stroke-width="3.5"/>
<ellipse cx="656.6" cy="851.9" rx="32" ry="19.5" stroke-width="2.8600000000000003" fill="none" transform="rotate(-59.5 656.6 851.9)"/>
<polyline points="666.1,822.6 667,822.6 667.9,822.7 668.8,822.8 669.7,823 670.5,823.3 671.3,823.6 672.1,823.9 672.8,824.3 673.6,824.8 674.2,825.3 674.9,825.9 675.5,826.5 676.1,827.1 676.6,827.8 677.1,828.6 677.6,829.4 678,830.2 678.4,831.1 678.8,832 679.1,833 679.3,834 679.5,835 679.7,836.1 679.8,837.1 679.9,838.3 680,839.4 680,840.6 679.9,841.8 679.8,843 679.7,844.2 679.5,845.4 679.3,846.7 679,847.9 678.7,849.2 678.3,850.5 677.9,851.8 677.5,853 677,854.3 676.5,855.6 676,856.9" stroke-width="3.5"/>
<polyline points="591.3,842.4 613.9,846.8" stroke-width="2.6"/>
<polyline points="590.5,831.1 622.7,841.9" stroke-width="2.6"/>
<polyline points="601,823.1 620.3,833.2" stroke-width="2.6"/>
<polyline points="602.6,809.7 628.4,831.1" stroke-width="2.6"/>
<polyline points="613.1,803.7 628.4,820.6" stroke-width="2.6"/>
<polyline points="618.7,788.4 636.5,819" stroke-width="2.6"/>
<polyline points="630.8,783.5 639.7,806.9" stroke-width="2.6"/>
<polyline points="640.5,766.6 648.5,808.5" stroke-width="2.6"/>
<polyline points="657.1,763.4 657.1,793.2" stroke-width="2"/>
<polyline points="676.3,746.5 667.1,797.3" stroke-width="2.6"/>
<polyline points="693.7,752.1 682.4,786.8" stroke-width="2.6"/>
<polyline points="717.1,750.5 689.7,800.5" stroke-width="2.6"/>
<polyline points="725.2,773.1 703.4,800.5" stroke-width="2.6"/>
<polyline points="738.9,786 700.2,819" stroke-width="2.6"/>
<polyline points="733.2,811 708.2,825.5" stroke-width="2.6"/>
<polyline points="738.9,824.7 698.5,840" stroke-width="2.6"/>
<polyline points="728.4,841.6 703.4,847.3" stroke-width="2.6"/>
<polyline points="730.8,854.8 694.5,854.8" stroke-width="2"/>
<polyline points="580,854.8 617.9,854.8" stroke-width="2"/>
<polyline points="583.7,867.7 608.7,862.9" stroke-width="2.6"/>
<polyline points="574.8,884.7 614.4,871" stroke-width="2.6"/>
<polyline points="579.7,898.4 606.3,883.9" stroke-width="2.6"/>
<polyline points="575.6,923.4 615.2,889.5" stroke-width="2.6"/>
<polyline points="591,933.9 613.5,906.5" stroke-width="2.6"/>
<polyline points="599,954.8 628,905.6" stroke-width="2.6"/>
<polyline points="622.4,950.8 634.5,917.7" stroke-width="2.6"/>
<polyline points="639.4,956.5 648.5,905.6" stroke-width="2.6"/>
<polyline points="657.1,940.3 657.1,910.5" stroke-width="2"/>
<polyline points="671.6,937.9 664.4,896.8" stroke-width="2.6"/>
<polyline points="680.5,921.8 673.2,898.4" stroke-width="2.6"/>
<polyline points="693.4,917.7 674.8,887.1" stroke-width="2.6"/>
<polyline points="698.2,903.2 683.7,886.3" stroke-width="2.6"/>
<polyline points="707.9,897.6 682.9,877.4" stroke-width="2.6"/>
<polyline points="710.3,884.7 692.6,875" stroke-width="2.6"/>
<polyline points="720,877.4 688.5,866.9" stroke-width="2.6"/>
<polyline points="720.8,866.1 697.4,862.1" stroke-width="2.6"/>
<ellipse cx="676" cy="816.6" rx="3.2" ry="4" stroke-width="2.6" fill="black" transform="rotate(20 676 816.6)"/>
<ellipse cx="634.8" cy="840" rx="3.2" ry="4" stroke-width="2.6" fill="black" transform="rotate(20 634.8 840)"/>
<ellipse cx="675.6" cy="868.5" rx="3.2" ry="4" stroke-width="2.6" fill="black" transform="rotate(20 675.6 868.5)"/>
<ellipse cx="635.3" cy="891.9" rx="3.2" ry="4" stroke-width="2.6" fill="black" transform="rotate(20 635.3 891.9)"/>
<polyline points="657,856.5 659,858.5" stroke-width="2.6"/>
<polyline points="571,807.5 588.5,817.5" stroke-width="2.6"/>
<polyline points="718.4,893.5 745.1,907.5" stroke-width="2.6"/>
<polyline points="634.5,891.9 665.2,907.3" stroke-width="2.6"/>
<polyline points="679.7,917.7 707.1,932.3" stroke-width="2.6"/>
<polygon points="743.3,912.4 752.9,901.5 760.2,902.1 771.1,910 771.1,919.6 762.6,930.5 756,931.1 743.3,922.7" stroke-width="2.8600000000000003" fill="white"/>
<polygon points="752,913 757,906 766,909 770,916 768,925 760,930 752,926 750,919" stroke="none" fill="black"/>
<path d="M744,914 L752,917 M765,921 L771,911 M765,921 L762,930 M752,903 L758,907" stroke-width="2.6" fill="none"/>
<g stroke="white">
<polyline points="755,913 758,915" stroke-width="2"/>
<polyline points="762,924 764,926" stroke-width="2"/>
</g>
<polyline points="770.5,922.7 790.4,934.8" stroke-width="2.6"/>
<path d="M784.4,916 Q797,912 805,903" stroke-width="3.5" fill="none"/>
<ellipse cx="806" cy="903" rx="2.5" ry="3.5" stroke="none" fill="black" transform="rotate(30 806 903)"/>
<ellipse cx="727.5" cy="943.4" rx="10.4" ry="10.5" stroke="none" fill="black"/>
<polygon points="725,935 728.3,934.4 732.2,936.3 730.9,937.4 726.7,936.9" stroke="none" fill="white"/>
<polygon points="718.9,942.9 722.7,936.8 726.7,938.4 725.6,942.4 722.1,945.1" stroke="none" fill="white"/>
<polygon points="718.6,945.9 721.2,946.3 723.8,951.5 722.1,951.7 718.9,949" stroke="none" fill="white"/>
<ellipse cx="812.5" cy="949.5" rx="26.8" ry="30.7" stroke-width="2.8600000000000003" fill="white" transform="rotate(25 812.5 949.5)"/>
<ellipse cx="815.5" cy="950.5" rx="24.6" ry="29.3" stroke-width="2.6" fill="none" transform="rotate(25 815.5 950.5)"/>
<ellipse cx="818" cy="951" rx="23.1" ry="27.8" stroke-width="2.6" fill="none" transform="rotate(25 818 951)"/>
<ellipse cx="820.7" cy="951.7" rx="22.3" ry="26" stroke-width="2.8600000000000003" fill="white" transform="rotate(25 820.7 951.7)"/>
</svg></body></html>
